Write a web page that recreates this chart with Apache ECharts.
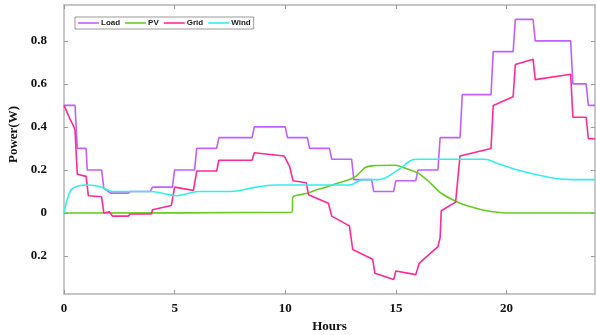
<!DOCTYPE html>
<html>
<head>
<meta charset="utf-8">
<script src="https://cdn.jsdelivr.net/npm/echarts@6.0.0/dist/echarts.min.js"></script>
<style>
  html, body { margin: 0; padding: 0; background: #fff; }
  #chart { width: 596px; height: 335px; }
</style>
</head>
<body>
<div id="chart"></div>
<script>
// series data: [hour, power]
var loadData = [[0,0.5],[0.5,0.5],[0.6,0.3],[1,0.3],[1.05,0.2],[1.7,0.2],[1.8,0.115],[2.1,0.092],[2.9,0.092],[3,0.1],[3.9,0.1],[4,0.12],[4.9,0.12],[5,0.2],[5.9,0.2],[6,0.3],[6.9,0.3],[7,0.35],[8.5,0.35],[8.6,0.4],[10,0.4],[10.1,0.35],[11,0.35],[11.1,0.3],[12,0.3],[12.1,0.25],[13,0.25],[13.1,0.155],[13.9,0.155],[14,0.1],[14.9,0.1],[15,0.15],[15.9,0.15],[16,0.2],[16.9,0.2],[17,0.35],[17.9,0.35],[18,0.55],[19.3,0.55],[19.4,0.75],[20.3,0.75],[20.4,0.9],[21.2,0.9],[21.3,0.8],[22.9,0.8],[23,0.6],[23.6,0.6],[23.7,0.5],[24,0.5]];
var pvData = [[0,0],[10.3,0.003],[10.35,0.075],[10.95,0.09],[11.5,0.11],[12.9,0.155],[13.25,0.175],[13.6,0.21],[14,0.22],[15,0.222],[15.5,0.205],[16,0.185],[16.5,0.145],[17,0.095],[17.8,0.05],[18.5,0.025],[19.1,0.01],[20,0],[24,0]];
var gridData = [[0,0.5],[0.15,0.465],[0.3,0.43],[0.45,0.4],[0.5,0.385],[0.6,0.18],[1,0.17],[1.1,0.08],[1.7,0.075],[1.8,0],[2.05,0.005],[2.2,-0.015],[2.9,-0.015],[3,-0.005],[3.95,-0.005],[4,0.015],[4.85,0.035],[5,0.12],[5.85,0.105],[6,0.195],[6.9,0.195],[7,0.245],[8.5,0.245],[8.6,0.28],[9.95,0.265],[10.2,0.215],[10.25,0.215],[10.35,0.15],[10.95,0.14],[11.05,0.085],[11.95,0.045],[12.1,-0.015],[12.9,-0.06],[13.05,-0.17],[13.95,-0.215],[14.05,-0.28],[14.9,-0.31],[15,-0.27],[15.9,-0.287],[16.05,-0.235],[16.9,-0.157],[17,-0.115],[17.05,0.01],[17.7,0.05],[17.9,0.265],[19.3,0.3],[19.4,0.5],[20.3,0.54],[20.4,0.69],[21.2,0.715],[21.3,0.62],[22.9,0.645],[23,0.445],[23.6,0.445],[23.7,0.345],[24,0.345]];
var windData = [[0,0],[0.2,0.08],[0.4,0.115],[1,0.13],[1.5,0.125],[1.8,0.115],[2.2,0.1],[3.9,0.1],[4.5,0.09],[5.1,0.08],[5.6,0.09],[6.1,0.1],[7.5,0.1],[8.7,0.12],[9.6,0.13],[12.9,0.13],[13.5,0.155],[14.2,0.155],[15.1,0.2],[15.7,0.245],[16,0.25],[19,0.25],[19.6,0.23],[20.5,0.2],[21.5,0.175],[22.2,0.16],[23,0.155],[24,0.155]];

var xTicks = [0, 5, 10, 15, 20];
var yTicks = [-0.2, 0, 0.2, 0.4, 0.6, 0.8];

var chart = echarts.init(document.getElementById('chart'));
var axisColor = '#b4b4b4';
var labelFont = { color: '#111', fontFamily: 'Liberation Serif', fontWeight: 'bold', fontSize: 13 };

function line(name, data, color, smooth) {
  return {
    name: name,
    type: 'line',
    data: data,
    symbol: 'none',
    smooth: smooth || false,
    lineStyle: { color: color, width: 1.6 },
    itemStyle: { color: color }
  };
}

var option = {
  animation: false,
  backgroundColor: '#fff',
  grid: { left: 64, right: 1, top: 5, bottom: 41, outerBoundsMode: 'none' },
  legend: {
    left: 75, top: 17,
    orient: 'horizontal',
    icon: 'rect',
    itemWidth: 21, itemHeight: 1.6, itemGap: 5,
    padding: [2, 3],
    borderColor: '#999', borderWidth: 1,
    textStyle: { fontFamily: 'Liberation Sans', fontWeight: 'bold', fontSize: 8, color: '#222', padding: [0, 0, 0, -3] },
    data: ['Load', 'PV', 'Grid', 'Wind']
  },
  xAxis: [{
    type: 'value', min: 0, max: 24,
    name: 'Hours', nameLocation: 'middle', nameGap: 26,
    nameTextStyle: labelFont,
    axisLine: { show: true, onZero: false, lineStyle: { color: axisColor, width: 1.5 } },
    axisTick: { show: true, inside: true, length: 4, customValues: xTicks, lineStyle: { color: '#999' } },
    axisLabel: Object.assign({ margin: 8, customValues: xTicks }, labelFont),
    splitLine: { show: false }
  }, {
    type: 'value', min: 0, max: 24, position: 'top',
    axisLine: { show: true, onZero: false, lineStyle: { color: axisColor, width: 1.5 } },
    axisTick: { show: true, inside: true, length: 4, customValues: xTicks, lineStyle: { color: '#999' } },
    axisLabel: { show: false },
    splitLine: { show: false }
  }],
  yAxis: [{
    type: 'value', min: -0.377, max: 0.967,
    name: 'Power(W)', nameLocation: 'middle', nameGap: 40,
    nameTextStyle: Object.assign({ padding: [0, 0, 0, 30] }, labelFont),
    axisLine: { show: true, onZero: false, lineStyle: { color: axisColor, width: 1.5 } },
    axisTick: { show: true, inside: true, length: 4, customValues: yTicks, lineStyle: { color: '#999' } },
    axisLabel: Object.assign({
      margin: 17, customValues: yTicks,
      formatter: function (v) { return v === 0 ? '0' : Math.abs(v).toFixed(1); }
    }, labelFont),
    splitLine: { show: false }
  }, {
    type: 'value', min: -0.377, max: 0.967, position: 'right',
    axisLine: { show: true, onZero: false, lineStyle: { color: axisColor, width: 1.5 } },
    axisTick: { show: true, inside: true, length: 4, customValues: yTicks, lineStyle: { color: '#999' } },
    axisLabel: { show: false },
    splitLine: { show: false }
  }],
  series: [
    line('Load', loadData, '#c060ff'),
    line('PV', pvData, '#66cc22', 0.2),
    line('Grid', gridData, '#ff2a96'),
    line('Wind', windData, '#33eeee', 0.4)
  ]
};
chart.setOption(option);
window.addEventListener('resize', function () { chart.resize(); });
</script>
</body>
</html>
